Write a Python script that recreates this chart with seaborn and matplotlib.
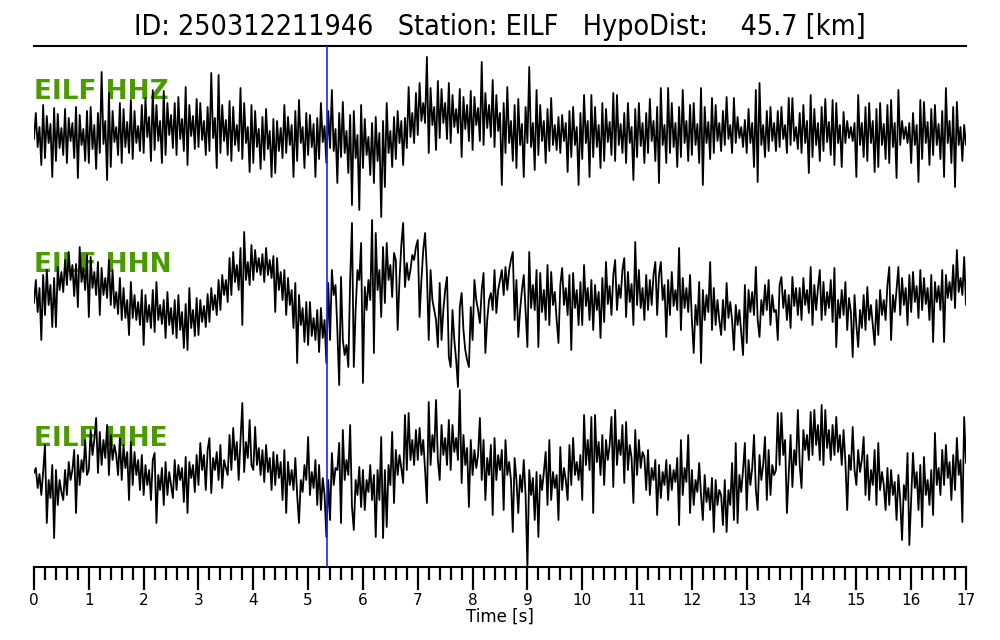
import numpy as np
import pandas as pd
import matplotlib
matplotlib.use("Agg")
import matplotlib.pyplot as plt
import seaborn as sns
from matplotlib.ticker import MultipleLocator
from matplotlib import font_manager

# ---------------- data ----------------
event_id = "250312211946"
station = "EILF"
hypo_dist_km = 45.7
channels = ["HHZ", "HHN", "HHE"]
dt = 1.0 / 30.0
pick_time = 5.345  # P pick [s]

hhz = [
    -6, 20, -14, 6, -32, 28,   -25, 17, -10, 9, -44, 25,
    -28, 19, -15, 5, -22, 24,  -30, 15, -8, 10, -25, 26,
    -45, 18, -12, 4, -28, 22,  -30, 26, -16, 8, -36, 20,
    -20, 61, -11, 12, -47, 40, -34, 22, -9, 6, -22, 30,
    -30, 24, -14, 11, -20, 33, -26, 22, -10, 7, -18, 28,
    -20, 35, -4, 16, -28, 43,  -17, 28, -8, 12, -30, 42,
    -22, 30, -2, 18, -15, 30,  -22, 36, -6, 14, -18, 46,
    -32, 28, -3, 17, -16, 34,  -14, 30, -7, 12, -22, 26,
    -18, 60, -5, 15, -35, 58,  -20, 28, -8, 13, -22, 32,
    -28, 26, -12, 8, -18, 45,  -26, 30, -10, 6, -39, 28,
    -30, 22, -14, 4, -36, 16,  -27, 24, -16, 2, -44, 14,
    -40, 12, -18, 5, -25, 28,  -20, 16, -12, 8, -44, 22,
    -28, 33, -10, 6, -35, 20,  -22, 18, -14, 9, -44, 15,
    -26, 30, -9, 7, -30, 22,   -15, 43, -18, 4, -50, 20,
    -24, 31, -20, 2, -40, 18,  -72, 22, -25, -2, -77, 28,
    -35, 14, -22, -4, -42, 10, -50, 16, -28, 0, -84, 12,
    -54, 30, -20, 2, -34, 16,  -26, 22, -10, 12, -32, 15,
    -15, 46, -4, 20, -10, 40,  -2, 50, 12, 30, 10, 76,
    -20, 45, 8, 26, -17, 52,   -5, 44, 10, 30, -6, 50,
    -10, 38, 6, 24, 0, 44,     -24, 36, 4, 28, -8, 42,
    -17, 36, 8, 25, -8, 71,    -12, 40, 5, 28, -4, 53,
    -14, 38, 2, 20, -52, 30,   -20, 46, -10, 12, -28, 28,
    -35, 34, -12, 9, -44, 26,  -10, 66, -14, 10, -37, 43,
    -22, 28, -8, 12, -30, 24,  -18, 35, -12, 8, -17, 16,
    -20, 18, -8, 10, -39, 22,  -24, 26, -12, 6, -52, 20,
    -26, 38, -10, 12, -44, 38, -24, 26, -14, 8, -35, 30,
    -28, 24, -9, 11, -22, 40,  -28, 38, -12, 9, -20, 20,
    -30, 30, -10, 6, -47, 24,  -24, 30, -13, 10, -30, 20,
    -20, 34, -8, 12, -28, 26,  -50, 45, -12, 8, -30, 45,
    -20, 30, -14, 10, -34, 26, -24, 43, -10, 12, -28, 28,
    -22, 30, -12, 9, -30, 45,  -52, 26, -10, 11, -26, 35,
    -20, 28, -8, 10, -18, 22,  -12, 36, -6, 8, -20, 35,
    -10, 16, -5, 6, -14, 13,   -20, 24, -10, 10, -34, 43,
    -49, 50, -12, 8, -24, 22,  -18, 26, -8, 10, -18, 22,
    -14, 26, -6, 8, -20, 35,   -12, 35, -8, 6, -16, 20,
    -20, 28, -10, 12, -40, 38, -24, 24, -12, 10, -28, 26,
    -18, 34, -9, 11, -22, 33,  -32, 30, -10, 8, -34, 21,
    -10, 12, -5, 6, -8, 10,    -44, 38, -12, 10, -24, 26,
    -28, 30, -10, 12, -39, 24, -34, 30, -12, 9, -26, 28,
    -30, 33, -14, 10, -45, 43, -12, 12, -6, 6, -10, 10,
    -30, 20, -12, 8, -49, 33,  -26, 31, -10, 11, -32, 24,
    -22, 28, -12, 9, -26, 22,  -44, 45, -10, 12, -30, 26,
    -54, 31, -12, 6, -28, 8,
    -12,
]

hhn = [
    -3, 20, -12, 12, -40, 25,  -15, 30, -5, 15, -27, 22,
    -27, 33, 10, 28, 8, 40,    15, 48, 20, 35, 4, 36,
    -7, 53, 18, 32, 10, 45,    -17, 43, 12, 28, 5, 38,
    -15, 32, 5, 22, 2, 40,     -5, 30, -8, 8, -14, 22,
    -20, 12, -18, 0, -35, 18,  -18, 5, -20, -2, -25, 10,
    -45, 5, -22, -5, -28, 10,  -32, 18, -20, -5, -24, 0,
    -38, 8, -25, -8, -34, 0,   -38, 5, -30, -12, -48, -4,
    -50, 12, -28, -10, -36, 2, -35, 0, -22, -6, -27, 6,
    -22, 12, -10, 5, -15, 20,  -10, 25, 5, 20, -2, 42,
    5, 48, 18, 35, 10, 52,     -25, 68, 20, 38, 15, 55,
    20, 50, 28, 42, 25, 46,    18, 52, 25, 40, 22, 44,
    -12, 42, 10, 28, 0, 30,    -15, 22, -5, 10, -28, 17,
    -63, 5, -25, -8, -42, -2,  -45, -2, -36, -18, -40, -10,
    -52, -8, -38, -20, -63, 17, -40, 30, 5, 15, -30, -85,
    23, -40, -55, -45, -67, 20, 77, -67, -10, 30, 20, 57,
    -83, 13, -10, 20, 0, 80,   -53, 67, 10, 30, -17, 53,
    -3, 57, 20, 35, 3, 47,     40, -30, 20, 55, 77, 13,
    37, 20, 30, 45, 40, 53,    60, -17, 20, 50, 67, 27,
    -40, 30, 0, -10, -20, -47, 17, -40, -10, 10, 23, -57,
    -67, -10, -40, -60, -87, -7, 7, -30, -50, -60, -67, -7,
    -40, 20, 0, -10, -23, 10,  27, -53, -20, 0, 7, -10,
    30, -13, 10, 20, 30, 5,    33, 10, 30, 40, 48, -20,
    20, -37, -10, 10, 25, -10, -47, 48, -8, 15, -10, 30,
    -47, 27, -12, 10, -20, 35, -25, 28, -5, 8, -20, -43,
    15, 32, -5, 12, -15, 25,   -50, 27, -8, 10, -25, 18,
    -25, 35, -6, 12, -20, 20,  -30, 15, -10, 8, -38, 22,
    -22, 38, -4, 14, -15, 25,  40, -10, 15, 2, 30, 42,
    -17, 28, -2, 16, -25, 58,  -5, 30, -8, 12, -20, 25,
    -10, 20, -5, 25, 38, -15,  25, 38, 0, 15, -37, 20,
    -15, 28, -6, 10, -10, 52,  -30, 22, -8, 12, -12, 25,
    -20, -53, -5, -25, 18, -63, 10, -20, 5, -12, 38, -30,
    12, -25, 0, -20, -35, 0,   -30, 17, -18, -2, -20, -50,
    -5, -25, -10, -32, -55, 15, -43, 10, -12, 8, -15, 33,
    -20, -37, 0, -15, 15, -10, 20, -25, 5, -12, -10, -40,
    15, 23, -8, 10, -20, 5,    -28, 23, -6, 12, -15, 12,
    -20, 22, -5, 10, -13, 33,  -25, 15, -10, 12, 30, -20,
    18, -15, 8, -8, 20, -22,   32, -47, 0, -18, 10, -15,
    18, -30, 2, -12, -57, 5,   -25, -47, -10, -28, 5, -30,
    13, -20, -5, -25, -45, 0,  -35, 10, -15, 0, -20, 15,
    33, -40, 5, -12, 10, 33,   -15, 22, -5, 12, -25, 25,
    -12, 28, -2, 14, -18, 30,  -10, 22, -4, 12, -20, 25,
    -42, 18, -2, 14, -10, 30,  -42, 25, 2, 18, 0, 35,
    -8, 50, 8, 22, 5, 43,
    -5,
]

hhe = [
    7, 12, -8, 6, -15, 8,      35, -43, 0, -18, 15, -58,
    10, -25, 0, -12, -20, 10,  -15, 18, 0, 10, 30, -33,
    25, -5, 20, 8, 40, 5,      10, 50, 25, 40, 62, 7,
    48, 15, 40, 22, 55, 5,     45, 20, 35, 25, 5, 42,
    0, 35, 12, 28, -20, 38,    -5, 28, 5, 20, -10, 25,
    -15, 15, -5, 10, -20, 20,  27, -43, 5, -10, 12, -25,
    18, -15, 8, -5, -18, 20,   -10, 15, 0, 12, -22, 23,
    -33, 18, 2, 15, -12, 25,   -5, 37, 10, 25, -10, 30,
    42, -13, 22, 10, 28, 0,    35, -8, 20, 12, 5, 45,
    10, 52, 20, 38, 0, 40,     77, 8, 38, 22, 60, 15,
    10, 53, 15, 32, 5, 30,     -2, 35, 8, 22, -10, 28,
    -5, 25, 2, 18, -20, 30,    -33, 18, -5, 10, -10, 22,
    -15, -43, 0, -12, 15, 0,   43, -15, 8, -8, 20, -25,
    15, -30, 2, -15, -57, 0,   -40, 27, -5, 12, 10, 37,
    -43, 50, 0, 20, 5, 55,     -27, -50, 0, -15, 13, -27,
    10, -30, 0, -12, 15, -20,  5, -57, 10, -20, 43, -58,
    10, -47, 15, -5, 48, -23,  30, 5, 25, 12, -3, 65,
    10, 67, 20, 40, 15, 50,    20, 52, 25, 40, 10, -23,
    78, 15, 45, 28, 80, 20,    0, 55, 25, 42, 15, 60,
    10, 55, 28, 42, 20, 90,    -3, 45, 15, 32, -27, 40,
    5, 30, 12, 25, 62, 0,      40, -20, 22, 5, 35, -35,
    42, 0, 25, 10, 30, -30,    40, 5, 18, 0, -52, 22,
    0, -33, 5, -12, 20, -15,   -88, 10, -15, 2, -40, 8,
    -57, 5, -10, 8, 28, -25,   40, -20, 8, -8, 5, -40,
    33, -10, 12, 0, -20, 35,   -5, 42, 5, 18, 0, 25,
    -20, 65, 15, 40, 10, 63,   -33, 65, 18, 38, 5, 45,
    -5, 40, 20, 35, 63, -7,    70, 15, 40, 25, 55, -3,
    58, 10, 35, 22, -23, 50,   5, 40, 12, 28, 23, -10,
    30, -15, 12, 0, 20, -35,   15, -18, 8, -5, 20, -20,
    15, -10, 10, -2, 22, -45,  40, -15, 12, -2, 45, -33,
    10, -25, 0, -12, 17, -15,  -40, 5, -22, -8, -30, 2,
    -52, 0, -25, -10, -15, -45, 0, -52, -10, -25, 17, -40,
    37, -43, 5, -12, 10, 37,   -30, 20, -5, 12, 45, -10,
    -30, 25, 0, 15, 43, -20,   30, -15, 15, 5, 10, 67,
    15, 67, 25, 40, -33, 5,    45, -7, 30, 15, 70, 15,
    -8, 50, 30, 45, 20, 68,    25, 70, 35, 55, 20, 75,
    15, 70, 32, 50, 20, 55,    25, 63, 28, 45, 15, 50,
    18, -30, 25, 10, 53, 10,   -5, 30, 8, 20, 43, -15,
    25, -20, 10, -5, 30, -25,  37, -10, 8, -5, -30, 12,
    -25, 10, -15, -2, -40, 5,  -20, -60, -5, -20, 27, -65,
    -20, 27, -8, 8, -30, 15,   -47, 23, -15, 0, -25, 10,
    -35, 47, -5, 12, -15, 30,  -5, 35, 2, 18, -20, 25,
    -10, 42, 5, 20, -42, 63,
    17,
]

# ---------------- layout ----------------
trace_depth = [133, 300, 480]     # baseline of each trace (down from top, px-like units)
label_depth = [92, 265, 439]
y_bottom, y_top = 567, 46

sns.set_theme(style="white")
plt.rcParams["font.family"] = ["DejaVu Sans"]
plt.rcParams["text.color"] = "black"
plt.rcParams["axes.labelcolor"] = "black"
plt.rcParams["xtick.color"] = "black"

cond = font_manager.FontProperties(family="DejaVu Sans", stretch="condensed")

frames = []
for ch, amp, d in zip(channels, [hhz, hhn, hhe], trace_depth):
    amp = np.asarray(amp, dtype=float)
    frames.append(pd.DataFrame({"time": np.arange(len(amp)) * dt,
                                "y": amp - d,
                                "channel": ch}))
df = pd.concat(frames, ignore_index=True)

fig = plt.figure(figsize=(10, 6.4), dpi=100)
ax = fig.add_axes([0.034, 1 - y_bottom / 640, 0.932, (y_bottom - y_top) / 640])

for ch, ld in zip(channels, label_depth):
    ax.text(0.0, -ld, f"{station} {ch}", color="#4a9a00", fontsize=19,
            fontweight="bold", ha="left", va="center", zorder=2)
    sns.lineplot(data=df[df["channel"] == ch], x="time", y="y", color="black",
                 linewidth=1.3, estimator=None, sort=False, ax=ax, zorder=3)

ax.axvline(pick_time, color="#2020ff", linewidth=1.2, zorder=4)

ax.set_xlim(0, 17)
ax.set_ylim(-y_bottom, -y_top)
ax.set_yticks([])
ax.set_ylabel("")
for s in ["left", "right"]:
    ax.spines[s].set_visible(False)
for s in ["top", "bottom"]:
    ax.spines[s].set_visible(True)
    ax.spines[s].set_color("black")
    ax.spines[s].set_linewidth(1.5)

ax.xaxis.set_major_locator(MultipleLocator(1))
ax.xaxis.set_minor_locator(MultipleLocator(0.2))
ax.tick_params(axis="x", which="major", direction="out", length=16.5, width=1.6,
               color="black", labelcolor="black", labelsize=11, pad=2,
               bottom=True, top=False)
ax.tick_params(axis="x", which="minor", direction="out", length=9.5, width=1.6,
               color="black", bottom=True, top=False)
ax.set_xlabel("Time [s]", fontsize=12, labelpad=0, color="black")
ax.grid(False)

title = f"ID: {event_id}   Station: {station}   HypoDist: {hypo_dist_km:7.1f} [km]"
fig.text(0.5, 1 - 27 / 640, title, ha="center", va="center",
         fontproperties=cond, fontsize=20.5, color="black")

fig.savefig("out.png", dpi=100)
